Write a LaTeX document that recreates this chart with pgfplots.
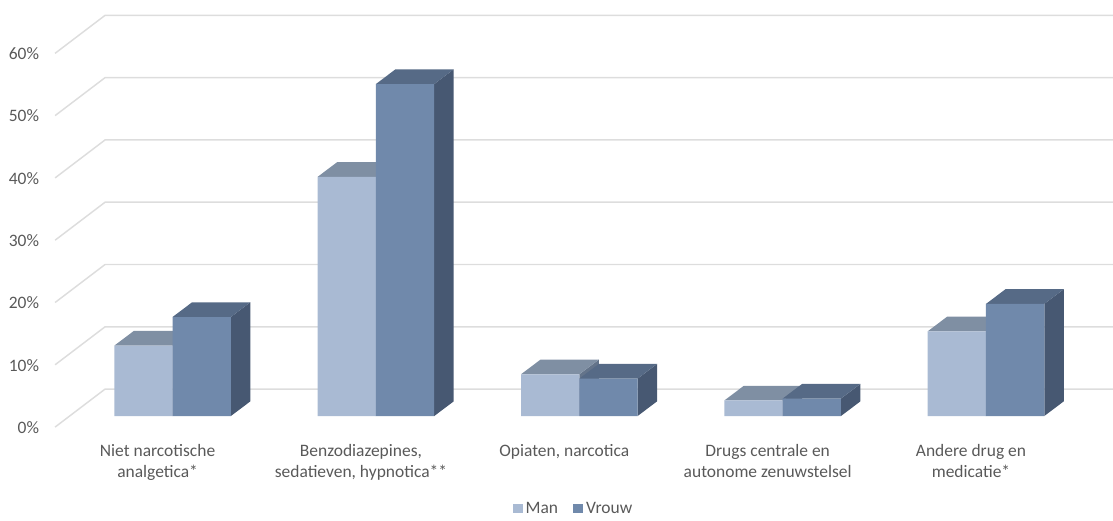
\documentclass[border=0pt]{standalone}
\usepackage{fontspec}
\setmainfont{Carlito}
\usepackage{pgfplots}
\pgfplotsset{compat=1.18}

% 1 px of the reference = 0.75pt here
\definecolor{manfront}{HTML}{A9BAD3}
\definecolor{mantop}{HTML}{7F8FA3}
\definecolor{manside}{HTML}{64748A}
\definecolor{vrfront}{HTML}{7089AB}
\definecolor{vrtop}{HTML}{566A86}
\definecolor{vrside}{HTML}{475872}
\definecolor{gridc}{HTML}{DDDDDD}
\definecolor{txt}{HTML}{595959}

% top and side of a bar: left x, right x, value, top colour, side colour
\newcommand{\depthfaces}[5]{%
  \pgfmathsetmacro\xa{#1+0.0959}%
  \pgfmathsetmacro\xb{#2+0.0959}%
  \pgfmathsetmacro\vb{#3+2.36}%
  \addplot[fill=#5,draw=none,forget plot] coordinates {(#2,0)(\xb,2.36)(\xb,\vb)(#2,#3)} --cycle;
  \addplot[fill=#4,draw=none,forget plot] coordinates {(#1,#3)(\xa,\vb)(\xb,\vb)(#2,#3)} --cycle;
}
% wall grid line: value at the front edge, value at the wall
\newcommand{\wallline}[2]{%
  \addplot[gridc,line width=1.1pt,forget plot] coordinates {(-0.5777,#1)(-0.3319,#2)(4.624,#2)};
}

\begin{document}
\begin{tikzpicture}
\begin{axis}[
  scale only axis,
  width=834.75pt, height=387pt,
  xmin=-0.848, xmax=4.624,
  ymin=-16.05, ymax=66.77,
  axis line style={draw=none},
  major tick length=0pt,
  xtick={0,1,2,3,4},
  xticklabels={{Niet narcotische\\analgetica*},{Benzodiazepines,\\sedatieven, hypnotica**},{Opiaten, narcotica},{Drugs centrale en\\autonome zenuwstelsel},{Andere drug en\\medicatie*}},
  xticklabel style={align=center,font=\fontsize{13.1}{15.8}\selectfont,text=txt,xshift=-11.25pt,yshift=57.5pt,anchor=north},
  ytick={0,10,20,30,40,50,60},
  yticklabels={0\%,10\%,20\%,30\%,40\%,50\%,60\%},
  yticklabel style={font=\fontsize{13.1}{14}\selectfont,text=txt,anchor=east,xshift=32.7pt,yshift=-8.6pt},
  legend columns=2,
  legend style={at={(574/1113,7.5/516)},anchor=center,draw=none,fill=none,
    font=\fontsize{13.1}{14}\selectfont,text=txt,
    /tikz/every even column/.append style={column sep=9.5pt}},
  legend image code/.code={\fill[#1] (0pt,-3.5pt) rectangle (7.5pt,3.5pt);},
]
\wallline{-1.77}{4.33}
\wallline{8.23}{14.33}
\wallline{18.23}{24.33}
\wallline{28.23}{34.33}
\wallline{38.23}{44.33}
\wallline{48.23}{54.33}
\wallline{58.23}{64.33}

% Man
\depthfaces{-0.2866}{0}{11.3}{mantop}{manside}
\depthfaces{0.7134}{1}{38.4}{mantop}{manside}
\depthfaces{1.7134}{2}{6.7}{mantop}{manside}
\depthfaces{2.7134}{3}{2.5}{mantop}{manside}
\depthfaces{3.7134}{4}{13.6}{mantop}{manside}
\addplot[ybar,bar width=0.2866,bar shift=-0.1433,fill=manfront,draw=none]
  coordinates {(0,11.3)(1,38.4)(2,6.7)(3,2.5)(4,13.6)};
\addlegendentry{Man}

% Vrouw
\depthfaces{0}{0.2866}{15.9}{vrtop}{vrside}
\depthfaces{1}{1.2866}{53.3}{vrtop}{vrside}
\depthfaces{2}{2.2866}{6.0}{vrtop}{vrside}
\depthfaces{3}{3.2866}{2.8}{vrtop}{vrside}
\depthfaces{4}{4.2866}{18.0}{vrtop}{vrside}
\addplot[ybar,bar width=0.2866,bar shift=0.1433,fill=vrfront,draw=none]
  coordinates {(0,15.9)(1,53.3)(2,6.0)(3,2.8)(4,18.0)};
\addlegendentry{Vrouw}
\end{axis}
\end{tikzpicture}
\end{document}
